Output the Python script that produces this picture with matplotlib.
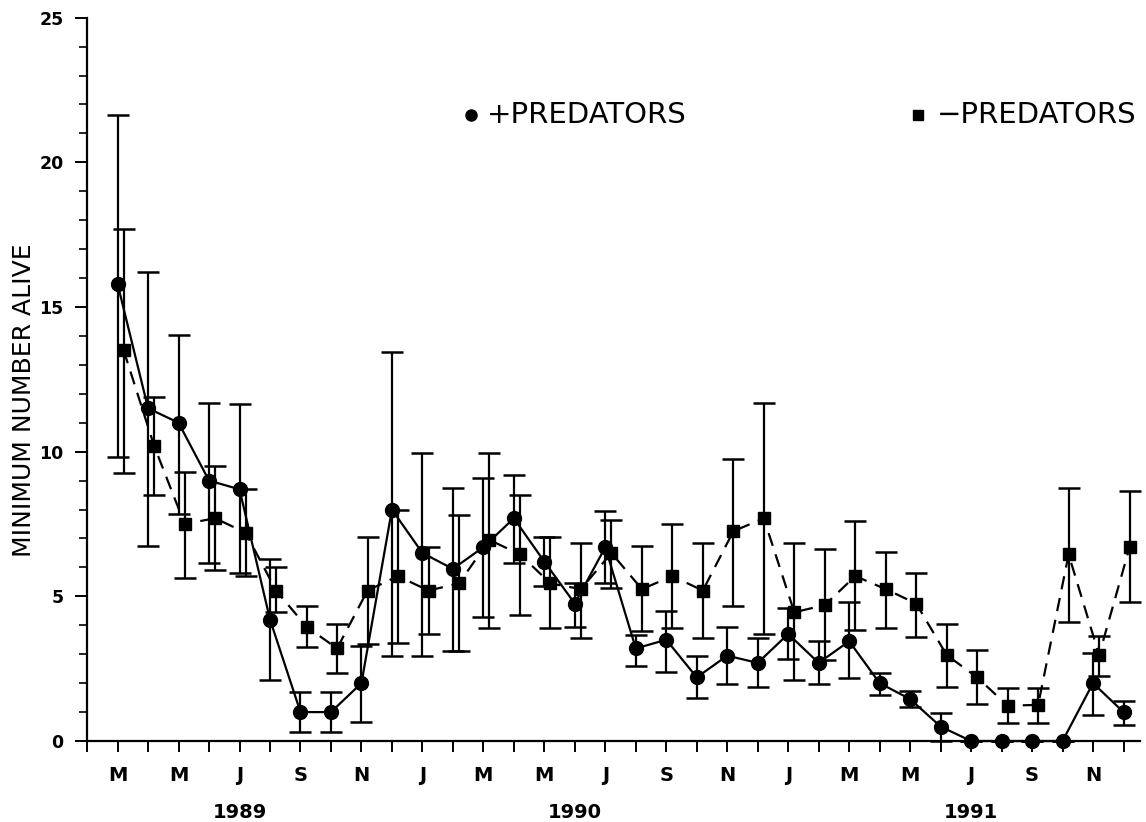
import numpy as np
import matplotlib.pyplot as plt
from matplotlib.ticker import FixedLocator, MultipleLocator
from matplotlib.transforms import blended_transform_factory

# months from Mar 1989 (0) to Dec 1991 (33)
month_labels = ['M', 'M', 'J', 'S', 'N', 'J', 'M', 'M', 'J', 'S', 'N', 'J', 'M', 'M', 'J', 'S', 'N']
years = ['1989', '1990', '1991']
year_pos = [4, 15, 28]

# +predators (circles): mean, top and bottom of the bars
plus_mean = [15.8, 11.5, 11.0, 9.0, 8.7, 4.2, 1.0, 1.0, 2.0, 8.0, 6.5, 5.95, 6.7, 7.7, 6.2, 4.75, 6.7,
             3.2, 3.5, 2.2, 2.95, 2.7, 3.7, 2.7, 3.45, 2.0, 1.45, 0.5, 0, 0, 0, 0, 2.0, 1.0]
plus_hi = [21.65, 16.2, 14.05, 11.7, 11.65, 6.3, 1.7, 1.7, 3.3, 13.45, 9.95, 8.75, 9.1, 9.2, 7.05, 5.45, 7.95,
           3.65, 4.5, 2.95, 3.95, 3.55, 4.6, 3.45, 4.8, 2.35, 1.73, 0.98, 0, 0, 0, 0, 3.05, 1.38]
plus_lo = [9.8, 6.75, 7.85, 6.15, 5.8, 2.1, 0.3, 0.3, 0.65, 2.95, 2.95, 3.1, 4.3, 6.15, 5.35, 3.95, 5.45,
           2.6, 2.4, 1.5, 1.97, 1.87, 2.85, 1.97, 2.17, 1.6, 1.18, 0.0, 0, 0, 0, 0, 0.9, 0.55]

# -predators (squares)
minus_mean = [13.5, 10.2, 7.5, 7.7, 7.2, 5.2, 3.95, 3.2, 5.2, 5.7, 5.2, 5.45, 6.95, 6.45, 5.45, 5.25, 6.5,
              5.25, 5.7, 5.2, 7.25, 7.7, 4.45, 4.7, 5.7, 5.25, 4.75, 2.97, 2.2, 1.22, 1.25, 6.45, 2.97, 6.7]
minus_hi = [17.7, 11.9, 9.3, 9.5, 8.7, 6.0, 4.65, 4.05, 7.05, 8.0, 6.7, 7.8, 9.95, 8.5, 7.05, 6.85, 7.65,
            6.75, 7.5, 6.85, 9.75, 11.7, 6.85, 6.65, 7.6, 6.55, 5.8, 4.05, 3.15, 1.85, 1.85, 8.75, 3.63, 8.65]
minus_lo = [9.25, 8.5, 5.65, 5.9, 5.7, 4.45, 3.25, 2.35, 3.35, 3.4, 3.7, 3.1, 3.9, 4.35, 3.9, 3.55, 5.3,
            3.8, 3.9, 3.55, 4.65, 3.7, 2.1, 2.8, 3.85, 3.9, 3.6, 1.87, 1.28, 0.62, 0.62, 4.1, 2.25, 4.8]

x = np.arange(len(plus_mean))
pm, ph, pl = np.array(plus_mean), np.array(plus_hi), np.array(plus_lo)
mm, mh, ml = np.array(minus_mean), np.array(minus_hi), np.array(minus_lo)

fig = plt.figure(figsize=(11.46, 8.22), dpi=100)
ax = fig.add_axes([0.076, 0.0985, 0.919, 0.88])

# error bars
ax.errorbar(x, pm, yerr=[pm - pl, ph - pm], fmt='none', ecolor='black',
            elinewidth=1.6, capsize=8, capthick=1.8, clip_on=False)
ax.errorbar(x + 0.2, mm, yerr=[mm - ml, mh - mm], fmt='none', ecolor='black',
            elinewidth=1.6, capsize=8, capthick=1.8, clip_on=False)

# lines and markers
ax.plot(x, pm, '-', color='black', lw=1.6, marker='o', ms=10, clip_on=False, zorder=5)
ax.plot(x + 0.2, mm, color='black', lw=1.6, ls=(0, (6, 4)), marker='s', ms=9,
        clip_on=False, zorder=5)

ax.set_xlim(-1, 33.55)
ax.set_ylim(0, 25)
ax.spines['top'].set_visible(False)
ax.spines['right'].set_visible(False)
ax.spines['left'].set_linewidth(1.6)
ax.spines['bottom'].set_linewidth(1.6)

ax.xaxis.set_major_locator(FixedLocator(np.arange(0, 33, 2)))
ax.xaxis.set_minor_locator(FixedLocator(np.arange(-1, 34, 2)))
ax.set_xticklabels(month_labels)
ax.yaxis.set_major_locator(MultipleLocator(5))
ax.yaxis.set_minor_locator(MultipleLocator(1))

ax.tick_params(axis='x', which='both', direction='out', length=8, width=1.4)
ax.tick_params(axis='x', which='major', pad=10, labelsize=14)
ax.tick_params(axis='y', which='major', direction='out', length=9, width=1.4, pad=8, labelsize=12.5)
ax.tick_params(axis='y', which='minor', direction='out', length=6, width=1.2)
for lab in ax.get_xticklabels() + ax.get_yticklabels():
    lab.set_fontweight('bold')

fig.text(0.021, 0.513, 'MINIMUM NUMBER ALIVE', rotation=90, fontsize=18,
         ha='center', va='center')

trans = blended_transform_factory(ax.transData, fig.transFigure)
for yr, p in zip(years, year_pos):
    ax.text(p, 0.012, yr, transform=trans, ha='center', va='center',
            fontsize=14, fontweight='bold')

# legend drawn by hand
ax.plot([0.411], [0.86], 'o', color='black', ms=8, transform=fig.transFigure, clip_on=False)
fig.text(0.425, 0.86, '+PREDATORS', fontsize=21, va='center', ha='left')
ax.plot([0.801], [0.86], 's', color='black', ms=7, transform=fig.transFigure, clip_on=False)
fig.text(0.992, 0.86, '\u2212PREDATORS', fontsize=21, va='center', ha='right')

fig.savefig('out.png', dpi=100)
